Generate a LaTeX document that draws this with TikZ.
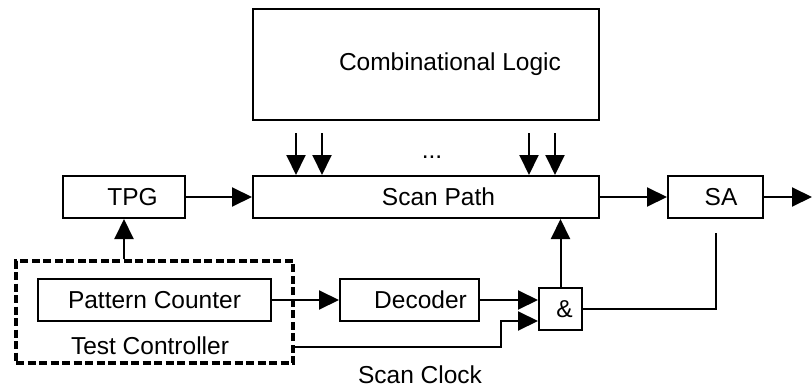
\documentclass[tikz,border=0pt]{standalone}
\usepackage{fontspec}
\setmainfont{Liberation Sans}
\usetikzlibrary{arrows.meta, positioning, calc}

\begin{document}
\begin{tikzpicture}[x=1pt, y=-1pt,
  blk/.style={draw, line width=2pt, inner sep=0pt, minimum height=42pt},
  ctl/.style={draw, line width=3.5pt, dash pattern=on 8pt off 3.5pt, inner sep=0pt},
  arr/.style={-{Triangle[length=20pt, width=19pt]}, line width=2pt},
  wire/.style={line width=2pt},
  font=\fontsize{24.5}{29}\selectfont]
  \useasboundingbox (0,0) rectangle (812,388);
  % blocks
  \node[blk, minimum width=346pt, minimum height=111pt] (comb) at (426,64.5) {\hspace*{48pt}Combinational Logic};
  \node[blk, minimum width=346pt] (scan) at (426,197) {\hspace*{25pt}Scan Path};
  \node[blk, minimum width=122pt] (tpg) at (124,197) {\hspace*{17pt}TPG};
  \node[blk, minimum width=95pt] (sa) at (715.5,197) {\hspace*{11pt}SA};
  \node[ctl, minimum width=277pt, minimum height=102pt] (ctrl) at (154.5,312) {};
  \node[blk, minimum width=233pt] (pc) at (154.5,300) {Pattern Counter};
  \node[blk, minimum width=139pt] (dec) at (409.5,300) {\hspace*{22pt}Decoder};
  \node[blk, minimum width=43pt] (and) at (560.5,309) {\hspace*{8pt}\&};
  % labels
  \node (tclab) at (150,346) {Test Controller};
  \node (clklab) at (420,375) {Scan Clock};
  \node (dots) at (432,157) {...};
  \coordinate (out) at (812,197);
  \coordinate (clk) at (501,347);
  \coordinate (sain) at ([yshift=-14pt]sa.south);
  % connectors
  \foreach \dx in {44,70,277,303}
    \draw[arr] ([xshift=\dx pt, yshift=42pt]scan.north west) -- ([xshift=\dx pt]scan.north west);
  \draw[arr] (tpg.east) -- (scan.west);
  \draw[arr] (scan.east) -- (sa.west);
  \draw[arr] (sa.east) -- (out);
  \draw[arr] (tpg.south |- ctrl.north) -- (tpg.south);
  \draw[arr] (pc.east) -- (dec.west);
  \draw[arr] (dec.east) -- (dec.east -| and.west);
  \draw[arr] ([yshift=-35pt]ctrl.east) -- (clk) |- ([yshift=-12pt]and.west);
  \draw[arr] (and.north) -- (and.north |- scan.south);
  \draw[wire] (and.east) -| (sain);
\end{tikzpicture}
\end{document}
